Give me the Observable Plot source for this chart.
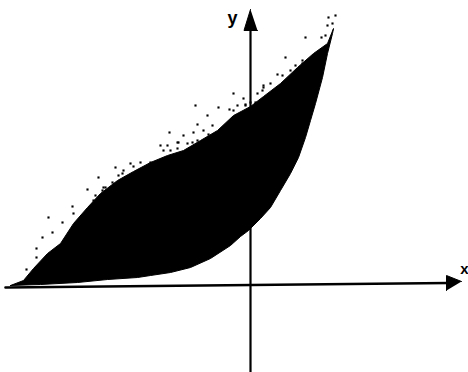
<!DOCTYPE html>
<html>
<head>
<meta charset="utf-8">
<script src="https://cdn.jsdelivr.net/npm/d3@7"></script>
<script src="https://cdn.jsdelivr.net/npm/@observablehq/plot@0.6"></script>
<style>
  html, body { margin: 0; padding: 0; background: #fff; }
  #chart svg { display: block; }
</style>
</head>
<body>
<div id="chart"></div>
<script>
// Upper (noisy) boundary of the shaded region, left to right
const upperX = [-4.8, -4.54, -4.34, -4.06, -3.8, -3.54, -3.26, -3.0, -2.66, -2.34, -2.0, -1.66, -1.34, -1.0, -0.66, -0.34, 0, 0.26, 0.6, 0.94, 1.26, 1.54, 1.66];
const upperY = [0, 0.1, 0.34, 0.64, 0.84, 1.24, 1.56, 1.84, 2.1, 2.28, 2.46, 2.6, 2.7, 2.9, 3.1, 3.4, 3.58, 3.78, 4.04, 4.36, 4.64, 4.84, 5.14];
// Lower (smooth) boundary, right to left
const lowerX = [1.64, 1.54, 1.44, 1.3, 1.2, 1.1, 0.96, 0.8, 0.6, 0.4, 0.2, -0.04, -0.2, -0.4, -0.8, -1.2, -1.6, -2.0, -2.26, -2.86, -3.46, -4.2, -4.8];
const lowerY = [5.04, 4.64, 4.16, 3.64, 3.3, 2.96, 2.56, 2.24, 1.9, 1.56, 1.34, 1.1, 0.98, 0.8, 0.54, 0.36, 0.26, 0.2, 0.16, 0.12, 0.06, 0.02, 0];
// Scattered specks above the upper boundary
const speckX = [-0.34, -1.1, -0.64, -0.86, -0.42, -1.62, -1.34, -1.14, -1.46, -0.94, -1.74, -1.8, -2.7, -2.4, -3.04, -3.26, -2.94, -3.1, -3.56, -3.54, -4.04, -3.76, -3.96, -4.16, -4.28, -4.28, -4.48, -4.36, 1.7, 1.56, 1.54, 1.64, 1.1, 1.42, 1.5, 1.04, 0.7, 0.54, -0.14, 0.26, 0.1, -0.1,
  -1.06, -0.76, -0.66, -0.84, -1.44, -1.26, -1.16, -1.06, -1.66, -1.6, -1.46, -2.2, -2.0, -2.54, -2.34, -2.56, -2.64, -2.76, -2.9, -3.14, -2.96,
  0.64, 0.8, 0.9, 1.04, 1.14, 1.24, 1.4, 0.26, 0.4, 0.66, 0.14, 0.24, -0.26, -0.1, 0, -0.34];
const speckY = [3.84, 3.6, 3.56, 3.4, 3.52, 3.06, 3.0, 3.06, 2.86, 3.1, 2.7, 2.8, 2.36, 2.44, 2.16, 1.92, 1.96, 1.8, 1.58, 1.44, 1.36, 1.26, 1.06, 0.96, 0.74, 0.56, 0.32, 0.24, 5.4, 5.36, 5.2, 5.24, 4.96, 4.96, 5.0, 4.5, 4.56, 4.22, 3.74, 3.96, 3.66, 3.62,
  3.22, 3.2, 3.04, 3.02, 2.86, 2.84, 2.86, 2.9, 2.8, 2.7, 2.74, 2.46, 2.46, 2.3, 2.38, 2.24, 2.2, 2.06, 1.96, 1.7, 1.9,
  4.2, 4.3, 4.4, 4.44, 4.44, 4.46, 4.7, 4.0, 4.04, 4.04, 3.84, 3.9, 3.6, 3.6, 3.66, 3.5];
// Axes (shafts and arrowheads)
const xAxisX = [-4.9, 3.96];
const xAxisY = [-0.04, 0.05];
const yAxisX = [0, 0];
const yAxisY = [-1.74, 5.1];
const xHeadX = [4.22, 3.92, 3.92];
const xHeadY = [0.08, 0.2, -0.1];
const yHeadX = [0, -0.13, 0.14];
const yHeadY = [5.52, 5.1, 5.1];
// Axis labels
const labelText = ["y", "x"];
const labelX = [-0.36, 4.28];
const labelY = [5.34, 0.32];

const pts = (xs, ys) => xs.map((x, i) => ({x, y: ys[i]}));
const region = pts(upperX, upperY).concat(pts(lowerX, lowerY));
const specks = pts(speckX, speckY);
const labels = labelText.map((t, i) => ({t, x: labelX[i], y: labelY[i]}));

const chart = Plot.plot({
  width: 468,
  height: 372,
  margin: 0,
  style: {background: "#fff"},
  x: {domain: [-5, 4.36], axis: null},
  y: {domain: [-1.74, 5.7], axis: null},
  marks: [
    Plot.line(pts(yAxisX, yAxisY), {x: "x", y: "y", stroke: "black", strokeWidth: 2.2}),
    Plot.line(pts(xAxisX, xAxisY), {x: "x", y: "y", stroke: "black", strokeWidth: 2.6}),
    Plot.line(region, {x: "x", y: "y", fill: "black", stroke: "black", strokeWidth: 1}),
    Plot.dot(specks, {x: "x", y: "y", r: 1.2, symbol: "square", fill: "black", stroke: "none"}),
    Plot.line(pts(xHeadX, xHeadY), {x: "x", y: "y", fill: "black", stroke: "black", strokeWidth: 1}),
    Plot.line(pts(yHeadX, yHeadY), {x: "x", y: "y", fill: "black", stroke: "black", strokeWidth: 1}),
    Plot.text(labels.slice(0, 1), {x: "x", y: "y", text: "t", fontSize: 18, fontWeight: "bold", fontFamily: "Liberation Sans", fill: "black"}),
    Plot.text(labels.slice(1), {x: "x", y: "y", text: "t", fontSize: 15, fontWeight: "bold", fontFamily: "Liberation Sans", fill: "black"})
  ]
});
document.getElementById("chart").appendChild(chart);
</script>
</body>
</html>
